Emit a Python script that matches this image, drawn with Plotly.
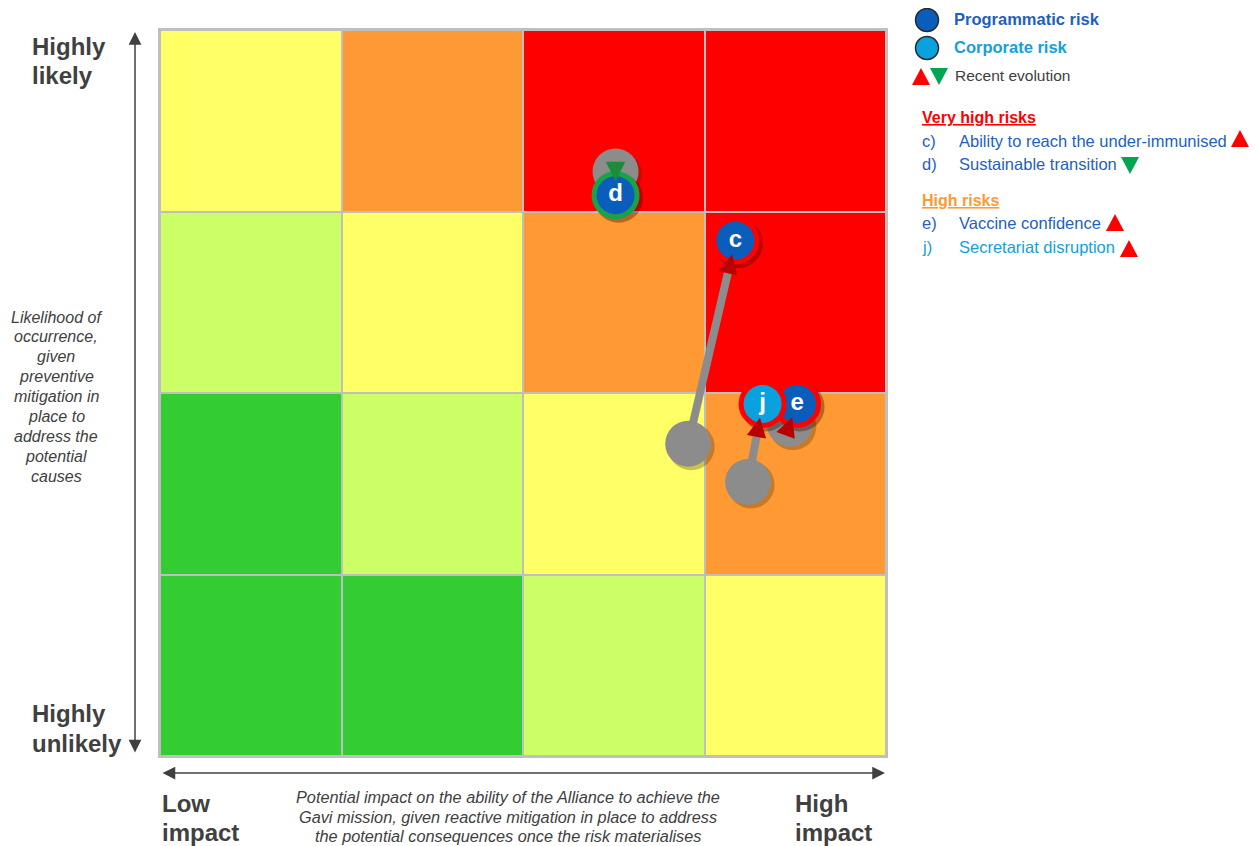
import numpy as np
import plotly.graph_objects as go

# ---------------- Data ----------------
impact_centers = [0.5, 1.5, 2.5, 3.5]
likelihood_centers = [0.5, 1.5, 2.5, 3.5]
# severity per cell; rows from "Highly unlikely" (bottom) to "Highly likely" (top)
severity = [
    [0, 0, 1, 2],
    [0, 1, 2, 3],
    [1, 2, 3, 4],
    [2, 3, 4, 4],
]
severity_colors = ["#33CC33", "#CCFF66", "#FFFF66", "#FF9933", "#FF0000"]

risk_ids = ["c", "d", "e", "j"]
risk_types = ["Programmatic", "Programmatic", "Programmatic", "Corporate"]
impact_now = [3.17, 2.51, 3.51, 3.32]
likelihood_now = [2.84, 3.09, 1.94, 1.94]
impact_prev = [2.91, 2.51, 3.47, 3.24]
likelihood_prev = [1.72, 3.22, 1.83, 1.51]
trend = ["up", "down", "up", "up"]

very_high_ids = ["c)", "d)"]
very_high_names = ["Ability to reach the under-immunised", "Sustainable transition"]
very_high_trend = ["up", "down"]
very_high_types = ["Programmatic", "Programmatic"]
high_ids = ["e)", "j)"]
high_names = ["Vaccine confidence", "Secretariat disruption"]
high_trend = ["up", "up"]
high_types = ["Programmatic", "Corporate"]

y_axis_note = ["Likelihood of", "occurrence,", "given", "preventive", "mitigation in",
               "place to", "address the", "potential", "causes"]
x_axis_note = ["Potential impact on the ability of the Alliance to achieve the",
               "Gavi mission, given reactive mitigation in place to address",
               "the potential consequences once the risk materialises"]

# ---------------- Styles ----------------
FONT = "Liberation Sans, Arial, sans-serif"
DARK = "#404040"
type_fill = {"Programmatic": "#0B5DBB", "Corporate": "#0AA2DE"}
type_text = {"Programmatic": "#1F5FBF", "Corporate": "#14A0DC"}
ring_color = {"up": "#FF0000", "down": "#1AA24A"}
head_color = {"up": "#B80000", "down": "#1E8B3A"}
tri_color = {"up": "#FF0000", "down": "#00A651"}

OFF = 8                # page body margin
L, T, S = 160, 30, 726  # plot area in screen pixels
W, H = 1257, 846


def P(px):
    return (px - L) / S


def Q(py):
    return (T + S - py) / S


px_per_unit = S / 4.0
sh = 3.0 / px_per_unit  # shadow offset in data units

n_lev = len(severity_colors)
colorscale = [[i / (n_lev - 1), c] for i, c in enumerate(severity_colors)]

fig = go.Figure()

fig.add_trace(go.Heatmap(
    x=impact_centers, y=likelihood_centers, z=severity,
    zmin=0, zmax=n_lev - 1, colorscale=colorscale, showscale=False,
    xgap=2, ygap=2, hoverinfo="skip",
))

# shadows of previous positions
fig.add_trace(go.Scatter(
    x=[v + sh for v in impact_prev], y=[v - sh for v in likelihood_prev], mode="markers",
    marker=dict(size=47, color="rgba(60,40,0,0.28)", line=dict(width=0)),
    hoverinfo="skip", showlegend=False,
))
# previous positions (grey)
fig.add_trace(go.Scatter(
    x=impact_prev, y=likelihood_prev, mode="markers",
    marker=dict(size=46, color="#8C8C8C", line=dict(width=0)),
    hoverinfo="skip", showlegend=False,
))

# connecting grey lines
lx, ly = [], []
for x0, y0, x1, y1 in zip(impact_prev, likelihood_prev, impact_now, likelihood_now):
    lx += [x0, x1, None]
    ly += [y0, y1, None]
fig.add_trace(go.Scatter(
    x=lx, y=ly, mode="lines", line=dict(color="#8C8C8C", width=8),
    hoverinfo="skip", showlegend=False,
))

# shadows of current positions
fig.add_trace(go.Scatter(
    x=[v + sh for v in impact_now], y=[v - sh for v in likelihood_now], mode="markers",
    marker=dict(size=49, color="rgba(60,0,0,0.35)", line=dict(width=0)),
    hoverinfo="skip", showlegend=False,
))
# current positions
fig.add_trace(go.Scatter(
    x=impact_now, y=likelihood_now, mode="markers+text",
    text=risk_ids, textposition="middle center",
    textfont=dict(family=FONT, size=24, color="white", weight="bold"),
    marker=dict(size=43, color=[type_fill[t] for t in risk_types],
                line=dict(width=5, color=[ring_color[t] for t in trend])),
    hoverinfo="skip", showlegend=False,
))

annotations = []
for x0, y0, x1, y1, tr in zip(impact_prev, likelihood_prev, impact_now, likelihood_now, trend):
    d = np.array([x1 - x0, y1 - y0])
    u = d / np.linalg.norm(d)
    tip = np.array([x1, y1]) - u * 14 / px_per_unit
    annotations.append(dict(
        x=tip[0], y=tip[1], xref="x", yref="y", axref="pixel", ayref="pixel",
        ax=-u[0] * 15, ay=u[1] * 15, text="", showarrow=True,
        arrowhead=2, arrowsize=1.3, arrowwidth=3, arrowcolor=head_color[tr],
    ))

# axis arrows
annotations.append(dict(x=P(135), y=Q(32), xref="paper", yref="paper",
                        axref="pixel", ayref="pixel", ax=0, ay=722, text="",
                        showarrow=True, arrowhead=2, arrowsize=1.7, arrowwidth=1.5,
                        arrowside="end+start", arrowcolor=DARK))
annotations.append(dict(x=P(885), y=Q(773), xref="paper", yref="paper",
                        axref="pixel", ayref="pixel", ax=-724, ay=0, text="",
                        showarrow=True, arrowhead=2, arrowsize=1.7, arrowwidth=1.5,
                        arrowside="end+start", arrowcolor=DARK))


def txt(x, y, text, size, color=DARK, xanchor="left", align="left"):
    annotations.append(dict(x=P(x), y=Q(y), xref="paper", yref="paper", text=text,
                            showarrow=False, xanchor=xanchor, yanchor="middle",
                            align=align, font=dict(family=FONT, size=size, color=color)))


def lines(x, y0, step, items, size, fmt="%s", xanchor="left"):
    for i, s in enumerate(items):
        txt(x, y0 + i * step, fmt % s, size, xanchor=xanchor, align=xanchor)


lines(30, 46, 29, ["Highly", "likely"], 24, "<b>%s</b>")
lines(30, 713, 30, ["Highly", "unlikely"], 24, "<b>%s</b>")
lines(160, 803, 30, ["Low", "impact"], 24, "<b>%s</b>")
lines(793, 803, 30, ["High", "impact"], 24, "<b>%s</b>")
lines(56, 317, 19.9, y_axis_note, 16, "<i>%s</i>", xanchor="center")
lines(508, 797, 19.5, x_axis_note, 16.3, "<i>%s</i>", xanchor="center")

shapes = []


def tri(x_left, y_top, direction, w=18, h=17):
    """Triangle glyph (legend decoration) given its screen-pixel box."""
    xl, xr, xm = P(x_left), P(x_left + w), P(x_left + w / 2)
    yt, yb = Q(y_top), Q(y_top + h)
    if direction == "up":
        path = "M %f,%f L %f,%f L %f,%f Z" % (xl, yb, xr, yb, xm, yt)
    else:
        path = "M %f,%f L %f,%f L %f,%f Z" % (xl, yt, xr, yt, xm, yb)
    shapes.append(dict(type="path", xref="paper", yref="paper", path=path,
                       fillcolor=tri_color[direction], line=dict(width=0)))


# legend
for cy, t in [(20, "Programmatic"), (48, "Corporate")]:
    shapes.append(dict(type="circle", xref="paper", yref="paper",
                       x0=P(915.5), x1=P(938.5), y0=Q(cy + 11.5), y1=Q(cy - 11.5),
                       fillcolor=type_fill[t], line=dict(color="#2A2A2A", width=1.5)))
txt(952, 19, "<b>Programmatic risk</b>", 16.5, type_text["Programmatic"])
txt(952, 47, "<b>Corporate risk</b>", 16.5, type_text["Corporate"])
tri(912, 68, "up")
tri(930, 68, "down")
txt(953, 75, "Recent evolution", 15.5, DARK)

txt(920, 117, "<b><u>Very high risks</u></b>", 16, "#FF0000")
for yy, i, n, ty in zip([141, 164], very_high_ids, very_high_names, very_high_types):
    txt(920, yy, i, 16.5, type_text[ty])
    txt(957, yy, n, 16.5, type_text[ty])
txt(920, 200, "<b><u>High risks</u></b>", 16, "#FF9933")
for yy, i, n, ty in zip([223, 247], high_ids, high_names, high_types):
    txt(920, yy, i, 16.5, type_text[ty])
    txt(957, yy, n, 16.5, type_text[ty])

# evolution markers after each legend item
for (xl, yt), tr in zip([(1231, 130), (1121, 157)], very_high_trend):
    tri(xl, yt, tr)
for (xl, yt), tr in zip([(1106, 214), (1120, 240)], high_trend):
    tri(xl, yt, tr)

fig.update_layout(
    width=W - OFF, height=H - OFF,
    margin=dict(l=L - OFF, r=W - L - S, t=T - OFF, b=H - T - S, pad=0),
    paper_bgcolor="white", plot_bgcolor="#BFBFBF",
    xaxis=dict(range=[0, 4], showgrid=False, zeroline=False, showticklabels=False,
               ticks="", showline=True, mirror=True, linecolor="#BFBFBF", linewidth=2,
               fixedrange=True),
    yaxis=dict(range=[0, 4], showgrid=False, zeroline=False, showticklabels=False,
               ticks="", showline=True, mirror=True, linecolor="#BFBFBF", linewidth=2,
               fixedrange=True),
    annotations=annotations, shapes=shapes, showlegend=False,
    font=dict(family=FONT),
)

fig.write_html("out.html")
